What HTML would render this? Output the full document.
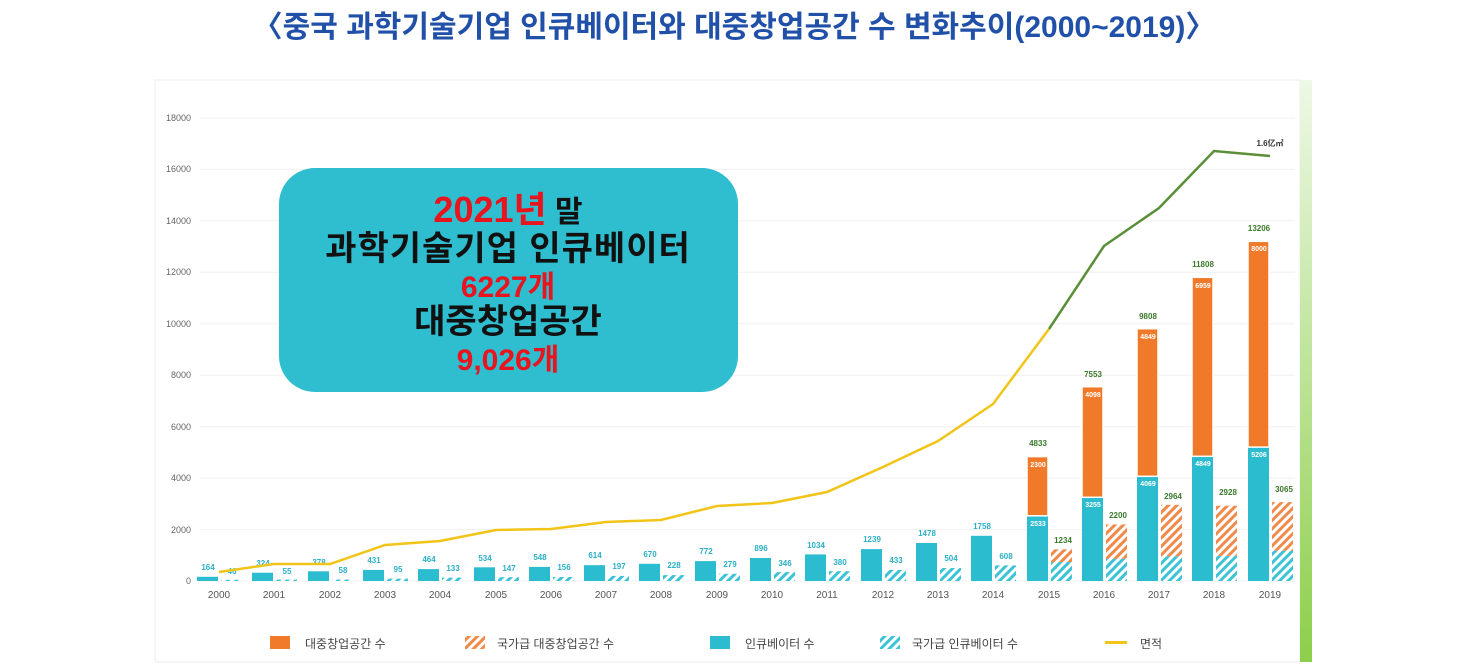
<!DOCTYPE html>
<html><head><meta charset="utf-8"><style>
body{margin:0;background:#fff;width:1468px;height:671px;overflow:hidden;font-family:"Liberation Sans","Noto Sans CJK KR",sans-serif}
.t{position:absolute;left:0;width:1468px;top:2px;text-align:center;font-size:30px;font-weight:bold;color:#2050a8;font-family:"Liberation Sans","Noto Sans CJK KR",sans-serif}
</style></head><body>
<div class="t">〈중국 과학기술기업 인큐베이터와 대중창업공간 수 변화추이(2000~2019)〉</div>
<svg width="1468" height="671" style="position:absolute;left:0;top:0" font-family="Liberation Sans, Noto Sans CJK KR, sans-serif">
<defs>
<pattern id="ht" width="6" height="6" patternUnits="userSpaceOnUse" patternTransform="rotate(45)"><rect width="6" height="6" fill="#fff"/><rect width="3" height="6" fill="#3cc3d6"/></pattern>
<pattern id="ho" width="6" height="6" patternUnits="userSpaceOnUse" patternTransform="rotate(45)"><rect width="6" height="6" fill="#fff"/><rect width="3" height="6" fill="#f08a4a"/></pattern>
<linearGradient id="gg" x1="0" y1="0" x2="0" y2="1"><stop offset="0" stop-color="#eef8e6"/><stop offset="1" stop-color="#8ccf4a"/></linearGradient>
</defs>
<rect x="155" y="80" width="1145" height="582" fill="#fff" stroke="#eee"/>
<rect x="1300" y="80" width="12" height="582" fill="url(#gg)"/>
<g stroke="#f0f0f0" stroke-width="1">
<line x1="200" x2="1295" y1="118" y2="118"/><line x1="200" x2="1295" y1="169.4" y2="169.4"/><line x1="200" x2="1295" y1="220.9" y2="220.9"/><line x1="200" x2="1295" y1="272.3" y2="272.3"/><line x1="200" x2="1295" y1="323.8" y2="323.8"/><line x1="200" x2="1295" y1="375.2" y2="375.2"/><line x1="200" x2="1295" y1="426.7" y2="426.7"/><line x1="200" x2="1295" y1="478.1" y2="478.1"/><line x1="200" x2="1295" y1="529.6" y2="529.6"/><line x1="200" x2="1295" y1="581" y2="581"/>
</g>
<g font-size="9" fill="#666" text-anchor="end">
<text x="191" y="121">18000</text><text x="191" y="172">16000</text><text x="191" y="224">14000</text><text x="191" y="275">12000</text><text x="191" y="327">10000</text><text x="191" y="378">8000</text><text x="191" y="430">6000</text><text x="191" y="481">4000</text><text x="191" y="533">2000</text><text x="191" y="584">0</text>
</g>
<g font-size="10" fill="#555" text-anchor="middle">
<text x="219" y="598">2000</text><text x="274" y="598">2001</text><text x="330" y="598">2002</text><text x="385" y="598">2003</text><text x="440" y="598">2004</text><text x="496" y="598">2005</text><text x="551" y="598">2006</text><text x="606" y="598">2007</text><text x="661" y="598">2008</text><text x="717" y="598">2009</text><text x="772" y="598">2010</text><text x="827" y="598">2011</text><text x="883" y="598">2012</text><text x="938" y="598">2013</text><text x="993" y="598">2014</text><text x="1049" y="598">2015</text><text x="1104" y="598">2016</text><text x="1159" y="598">2017</text><text x="1214" y="598">2018</text><text x="1270" y="598">2019</text>
</g>
<g fill="#2bbcd0">
<rect x="197" y="576.8" width="21" height="4.2"/><rect x="252" y="572.7" width="21" height="8.3"/><rect x="308" y="571.3" width="21" height="9.7"/><rect x="363" y="569.9" width="21" height="11.1"/><rect x="418" y="569.1" width="21" height="11.9"/><rect x="474" y="567.3" width="21" height="13.7"/><rect x="529" y="566.9" width="21" height="14.1"/><rect x="584" y="565.2" width="21" height="15.8"/><rect x="639" y="563.8" width="21" height="17.2"/><rect x="695" y="561.1" width="21" height="19.9"/><rect x="750" y="558" width="21" height="23"/><rect x="805" y="554.4" width="21" height="26.6"/><rect x="861" y="549.1" width="21" height="31.9"/><rect x="916" y="543" width="21" height="38"/><rect x="971" y="535.8" width="21" height="45.2"/><rect x="1027" y="515.8" width="21" height="65.2"/><rect x="1082" y="497.3" width="21" height="83.7"/><rect x="1137" y="476.3" width="21" height="104.7"/><rect x="1192" y="456.3" width="21" height="124.7"/><rect x="1248" y="447.1" width="21" height="133.9"/>
</g>
<g fill="#f07a2a" stroke="#fff" stroke-width="1.5">
<rect x="1027" y="456.6" width="21" height="59.2"/><rect x="1082" y="386.7" width="21" height="110.6"/><rect x="1137" y="328.7" width="21" height="147.6"/><rect x="1192" y="277.3" width="21" height="179"/><rect x="1248" y="241.3" width="21" height="205.8"/>
</g>
<g fill="url(#ht)">
<rect x="221" y="579.8" width="21" height="1.2"/><rect x="276" y="579.6" width="21" height="1.4"/><rect x="332" y="579.5" width="21" height="1.5"/><rect x="387" y="578.6" width="21" height="2.4"/><rect x="442" y="577.6" width="21" height="3.4"/><rect x="498" y="577.2" width="21" height="3.8"/><rect x="553" y="577" width="21" height="4"/><rect x="608" y="575.9" width="21" height="5.1"/><rect x="663" y="575.1" width="21" height="5.9"/><rect x="719" y="573.8" width="21" height="7.2"/><rect x="774" y="572.1" width="21" height="8.9"/><rect x="829" y="571.2" width="21" height="9.8"/><rect x="885" y="569.9" width="21" height="11.1"/><rect x="940" y="568" width="21" height="13"/><rect x="995" y="565.4" width="21" height="15.6"/><rect x="1051" y="562.1" width="21" height="18.9"/><rect x="1106" y="558.8" width="21" height="22.2"/><rect x="1161" y="556.3" width="21" height="24.7"/><rect x="1216" y="555.8" width="21" height="25.2"/><rect x="1272" y="550.7" width="21" height="30.3"/>
</g>
<g fill="url(#ho)">
<rect x="1051" y="549.3" width="21" height="12.8"/><rect x="1106" y="524.4" width="21" height="34.4"/><rect x="1161" y="504.8" width="21" height="51.5"/><rect x="1216" y="505.7" width="21" height="50.1"/><rect x="1272" y="502.1" width="21" height="48.6"/>
</g>
<g font-size="8" font-weight="bold" fill="#2bb0c8" text-anchor="middle">
<text x="208" y="570">164</text><text x="263" y="566">324</text><text x="319" y="565">378</text><text x="374" y="563">431</text><text x="429" y="562">464</text><text x="485" y="561">534</text><text x="540" y="560">548</text><text x="595" y="558">614</text><text x="650" y="557">670</text><text x="706" y="554">772</text><text x="761" y="551">896</text><text x="816" y="548">1034</text><text x="872" y="542">1239</text><text x="927" y="536">1478</text><text x="982" y="529">1758</text>
<text x="232" y="574">46</text><text x="287" y="574">55</text><text x="343" y="573">58</text><text x="398" y="572">95</text><text x="453" y="571">133</text><text x="509" y="571">147</text><text x="564" y="570">156</text><text x="619" y="569">197</text><text x="674" y="568">228</text><text x="730" y="567">279</text><text x="785" y="566">346</text><text x="840" y="565">380</text><text x="896" y="563">433</text><text x="951" y="561">504</text><text x="1006" y="559">608</text>
</g>
<g font-size="8" font-weight="bold" fill="#3a7a2a" text-anchor="middle">
<text x="1038" y="446">4833</text><text x="1093" y="377">7553</text><text x="1148" y="319">9808</text><text x="1203" y="267">11808</text><text x="1259" y="231">13206</text>
<text x="1063" y="543">1234</text><text x="1118" y="518">2200</text><text x="1173" y="499">2964</text><text x="1228" y="495">2928</text><text x="1284" y="492">3065</text>
<text x="1270" y="146" fill="#333">1.6亿㎡</text>
</g>
<g font-size="7" font-weight="bold" fill="#fff" text-anchor="middle">
<text x="1038" y="467">2300</text><text x="1093" y="397">4098</text><text x="1148" y="339">4849</text><text x="1203" y="288">6959</text><text x="1259" y="251">8000</text>
<text x="1038" y="526">2533</text><text x="1093" y="507">3255</text><text x="1148" y="486">4069</text><text x="1203" y="466">4849</text><text x="1259" y="457">5206</text>
</g>
<polyline fill="none" stroke="#f2c418" stroke-width="2.5" points="219,572 274,564 330,564 385,545 440,541 496,530 551,529 606,522 661,520 717,506 772,503 827,492 883,467 938,441 993,404 1049,329"/>
<polyline fill="none" stroke="#5a8f38" stroke-width="2.5" points="1049,329 1104,246 1159,208 1214,151 1270,156"/>
<rect x="279" y="168" width="459" height="224" rx="36" fill="#2fbdd0"/>
<g font-weight="bold" text-anchor="middle" font-size="34" font-family="Liberation Sans, Noto Sans CJK KR, sans-serif">
<text x="508" y="222"><tspan fill="#e8141e" font-size="36">2021년</tspan><tspan fill="#111" font-size="30"> 말</tspan></text>
<text x="508" y="260" fill="#111" letter-spacing="1">과학기술기업 인큐베이터</text>
<text x="508" y="297" fill="#e8141e" font-size="30">6227개</text>
<text x="508" y="333" fill="#111">대중창업공간</text>
<text x="508" y="370" fill="#e8141e" font-size="30">9,026개</text>
</g>
<g font-size="12" fill="#444">
<rect x="270" y="636" width="20" height="13" fill="#f07a2a"/><text x="305" y="648">대중창업공간 수</text>
<rect x="465" y="636" width="20" height="13" fill="url(#ho)"/><text x="497" y="648">국가급 대중창업공간 수</text>
<rect x="710" y="636" width="20" height="13" fill="#2bbcd0"/><text x="745" y="648">인큐베이터 수</text>
<rect x="880" y="636" width="20" height="13" fill="url(#ht)"/><text x="912" y="648">국가급 인큐베이터 수</text>
<rect x="1105" y="641" width="22" height="3" fill="#f2c418"/><text x="1140" y="648">면적</text>
</g>
</svg>
</body></html>
